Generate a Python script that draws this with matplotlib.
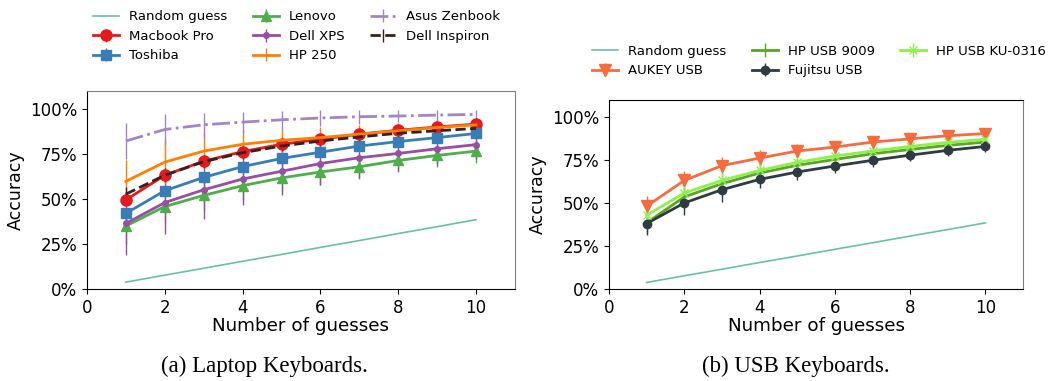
import matplotlib
matplotlib.use("Agg")
import matplotlib.pyplot as plt
from matplotlib.ticker import FuncFormatter

guesses = [1, 2, 3, 4, 5, 6, 7, 8, 9, 10]
random_guess = [3.8, 7.7, 11.5, 15.4, 19.2, 23.1, 26.9, 30.8, 34.6, 38.5]

# Laptop keyboards: mean accuracy (%) and spread
macbook = [49.5, 63.2, 71.0, 76.3, 80.4, 83.2, 86.0, 88.2, 90.0, 91.6]
macbook_err = [3, 3, 3, 2.5, 2.5, 2.5, 2, 2, 2, 2]
toshiba = [42.0, 54.6, 62.0, 68.0, 72.5, 76.0, 79.4, 81.9, 84.1, 86.4]
toshiba_err = [3, 3, 3, 3, 3, 2.5, 2.5, 2.5, 2, 2]
lenovo = [35.0, 45.8, 52.0, 57.4, 61.7, 65.0, 67.9, 71.4, 74.2, 76.6]
lenovo_err = [10, 9, 8.5, 8, 7.5, 7, 7, 6.5, 6.5, 6.5]
dell_xps = [36.4, 48.0, 55.1, 61.1, 65.4, 69.7, 72.9, 75.3, 77.9, 80.2]
dell_xps_err = [17.7, 17.5, 16, 14.5, 13, 12, 11, 10, 9, 8]
hp250 = [59.8, 70.5, 76.6, 80.4, 82.6, 84.1, 86.0, 87.9, 89.7, 91.2]
hp250_err = [12, 12, 10, 8, 7, 6, 5, 4.5, 4, 3.5]
asus = [82.2, 88.6, 91.2, 92.7, 94.0, 95.0, 95.7, 96.1, 96.6, 97.0]
asus_err = [10, 8.5, 6.6, 5.8, 5, 4.5, 4, 3.5, 3, 2.5]
inspiron = [52.7, 63.2, 70.7, 75.7, 79.4, 82.2, 84.5, 86.5, 87.9, 89.2]
inspiron_err = [4, 4, 3.5, 3.5, 3, 3, 3, 2.5, 2.5, 2.5]

# USB keyboards
aukey = [48.2, 63.2, 71.8, 76.2, 80.3, 82.6, 85.5, 87.4, 89.2, 90.5]
aukey_err = [6, 5.5, 5, 4.5, 4, 3.5, 3.5, 3, 3, 3]
hp9009 = [38.5, 53.6, 61.3, 67.5, 72.0, 75.4, 78.7, 81.2, 83.6, 85.5]
hp9009_err = [6, 6, 5.5, 5, 4.5, 4, 3.5, 3.5, 3, 3]
fujitsu = [38.1, 50.1, 57.8, 63.8, 68.1, 71.6, 74.9, 77.9, 80.7, 83.0]
fujitsu_err = [6.4, 7, 7, 5, 4.5, 4, 4, 3.5, 3.5, 3]
ku0316 = [42.9, 55.9, 63.2, 69.0, 73.7, 77.4, 80.3, 83.0, 85.3, 87.2]
ku0316_err = [5, 5, 4.5, 4, 4, 3.5, 3.5, 3, 3, 3]

plt.rcParams["font.family"] = ["DejaVu Sans"]

fig = plt.figure(figsize=(10.49, 3.81), dpi=100)
ax1 = fig.add_axes([0.0829, 0.2415, 0.408, 0.5197])
ax2 = fig.add_axes([0.5806, 0.2415, 0.3947, 0.496])

pct = FuncFormatter(lambda v, _: f"{v:.0f}%")


def style_axes(ax):
    ax.set_xlim(0, 11)
    ax.set_ylim(0, 110)
    ax.set_xticks([0, 2, 4, 6, 8, 10])
    ax.set_yticks([0, 25, 50, 75, 100])
    ax.yaxis.set_major_formatter(pct)
    ax.tick_params(labelsize=12, length=3.5, width=0.8)
    ax.set_xlabel("Number of guesses", fontsize=13.2, labelpad=0)
    ax.set_ylabel("Accuracy", fontsize=12.5, labelpad=4)
    for side in ("left", "bottom"):
        ax.spines[side].set_color("black")
    for side in ("top", "right"):
        ax.spines[side].set_color("#808080")


def series(ax, y, err, color, label, marker=None, ms=7, ls="-", lw=2):
    ax.errorbar(guesses, y, yerr=err, color=color, label=label, marker=marker,
                markersize=ms, linestyle=ls, linewidth=lw, elinewidth=1,
                capsize=0)


legend_kw = dict(ncol=3, loc="upper left", frameon=False, fontsize=9.5,
                 handlelength=2.0, handletextpad=0.75, columnspacing=1.9,
                 labelspacing=0.5, borderpad=0, borderaxespad=0)

# Laptop keyboards
ax1.plot(guesses, random_guess, color="#66c2a5", lw=1.2, label="Random guess")
series(ax1, macbook, macbook_err, "#e41a1c", "Macbook Pro", marker="o", ms=8)
series(ax1, toshiba, toshiba_err, "#377eb8", "Toshiba", marker="s", ms=7.5)
series(ax1, lenovo, lenovo_err, "#4daf4a", "Lenovo", marker="^", ms=7.5)
series(ax1, dell_xps, dell_xps_err, "#984ea3", "Dell XPS", marker="o", ms=4)
series(ax1, hp250, hp250_err, "#ff7f00", "HP 250")
series(ax1, asus, asus_err, "#a285c9", "Asus Zenbook", ls="-.")
series(ax1, inspiron, inspiron_err, "#3b1e1e", "Dell Inspiron", ls="--")
style_axes(ax1)

h, l = ax1.get_legend_handles_labels()
fig.legend(h, l, bbox_to_anchor=(0.0887, 0.973), **legend_kw)

# USB keyboards
ax2.plot(guesses, random_guess, color="#66c2a5", lw=1.2, label="Random guess")
series(ax2, aukey, aukey_err, "#f76b3c", "AUKEY USB", marker="v", ms=8.5)
series(ax2, hp9009, hp9009_err, "#55a821", "HP USB 9009")
series(ax2, fujitsu, fujitsu_err, "#2f3b42", "Fujitsu USB", marker="o", ms=6)
series(ax2, ku0316, ku0316_err, "#8fef4e", "HP USB KU-0316", marker="x", ms=6)
style_axes(ax2)
ax2.spines["top"].set_color("black")

h, l = ax2.get_legend_handles_labels()
fig.legend(h, l, bbox_to_anchor=(0.5643, 0.883), **legend_kw)

fig.text(0.2517, 0.037, "(a) Laptop Keyboards.", ha="center", va="center",
         fontsize=16.5, family="Liberation Serif")
fig.text(0.759, 0.037, "(b) USB Keyboards.", ha="center", va="center",
         fontsize=16.5, family="Liberation Serif")

fig.savefig("out.png", dpi=100)
